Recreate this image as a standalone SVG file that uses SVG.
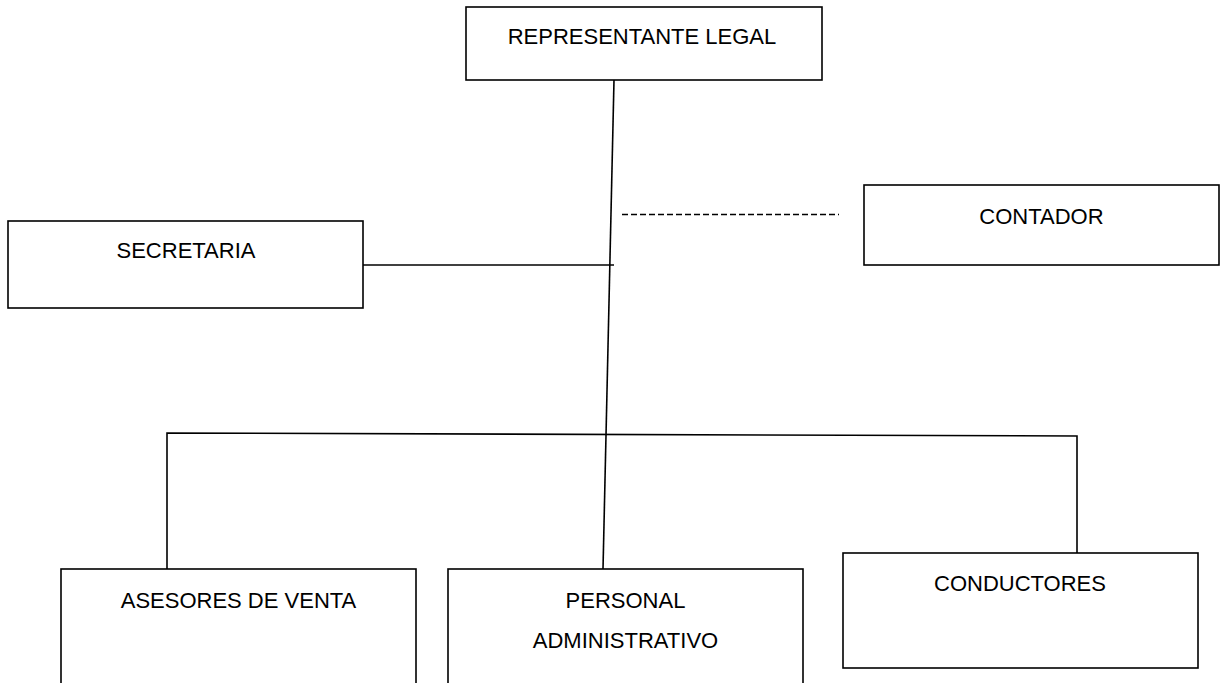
<svg xmlns="http://www.w3.org/2000/svg" width="1227" height="683" viewBox="0 0 1227 683">
<style>
.box{fill:#fff;stroke:#000;stroke-width:1.6}
.lbl{font-family:"Liberation Sans",Arial,sans-serif;font-size:22px;fill:#000;text-anchor:middle}
.ln{fill:none;stroke:#000;stroke-width:1.6}
.dash{fill:none;stroke:#000;stroke-width:1.6;stroke-dasharray:6 3}
</style>
<rect width="1227" height="683" fill="#fff"/>
<g id="connectors">
<line class="ln" x1="614" y1="80" x2="603" y2="569"/>
<line class="ln" x1="363" y1="265" x2="614" y2="265"/>
<line class="dash" x1="622" y1="214.5" x2="839" y2="214.5"/>
<polyline class="ln" points="167,569 167,433 1077,436 1077,553"/>
</g>
<g id="representante-legal">
<rect class="box" x="466" y="7" width="356" height="73"/>
<text class="lbl" x="642" y="44">REPRESENTANTE LEGAL</text>
</g>
<g id="secretaria">
<rect class="box" x="8" y="221" width="355" height="87"/>
<text class="lbl" x="186" y="258">SECRETARIA</text>
</g>
<g id="contador">
<rect class="box" x="864" y="185" width="355" height="80"/>
<text class="lbl" x="1041.5" y="224">CONTADOR</text>
</g>
<g id="asesores-de-venta">
<rect class="box" x="61" y="569" width="355" height="130"/>
<text class="lbl" x="238.5" y="608">ASESORES DE VENTA</text>
</g>
<g id="personal-administrativo">
<rect class="box" x="448" y="569" width="355" height="130"/>
<text class="lbl" x="625.5" y="608">PERSONAL</text>
<text class="lbl" x="625.5" y="648">ADMINISTRATIVO</text>
</g>
<g id="conductores">
<rect class="box" x="843" y="553" width="355" height="115"/>
<text class="lbl" x="1020" y="591">CONDUCTORES</text>
</g>
</svg>
